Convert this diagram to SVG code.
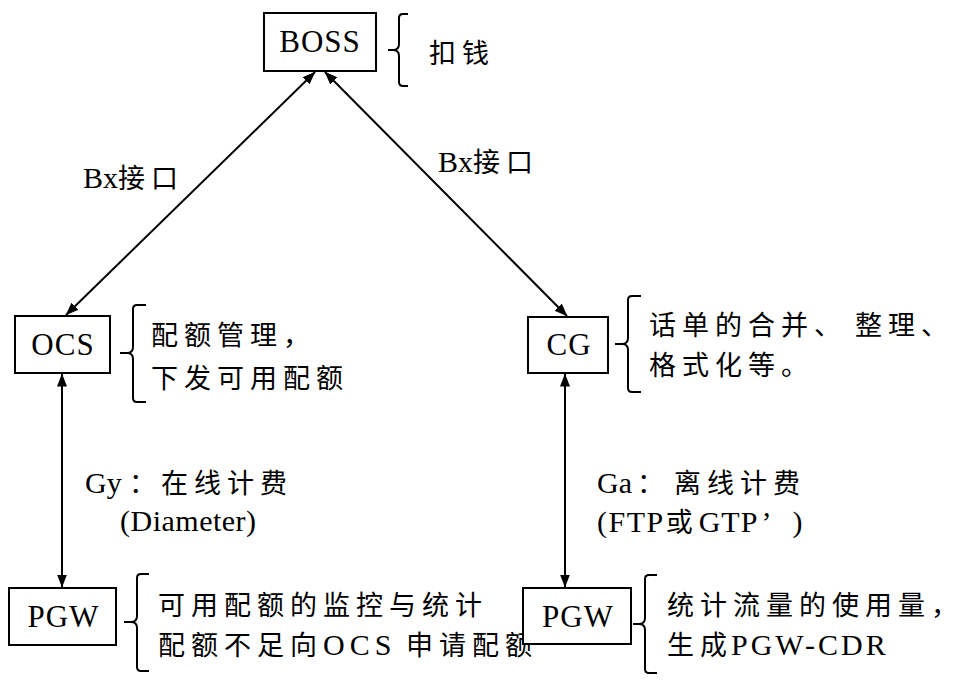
<svg xmlns="http://www.w3.org/2000/svg" width="965" height="693" viewBox="0 0 965 693">
<defs>
<style>
.box { fill: #fff; stroke: #000; stroke-width: 2; }
.lbl { font-family: "Liberation Serif", serif; font-size: 31px; letter-spacing: 1px; text-anchor: middle; fill: #000; }
.zh { font-family: "Noto Sans CJK SC", sans-serif; font-size: 27px; letter-spacing: 6px; fill: #000; }
.en { font-family: "Liberation Serif", serif; font-size: 30px; fill: #000; }
.brace { fill: none; stroke: #000; stroke-width: 2; }
.conn { fill: none; stroke: #000; stroke-width: 2; marker-start: url(#ah); marker-end: url(#ah); }
</style>
<marker id="ah" viewBox="0 0 13 12" refX="12.5" refY="6" markerWidth="13" markerHeight="12" markerUnits="userSpaceOnUse" orient="auto-start-reverse">
<path d="M0,1 L13,6 L0,11 z" fill="#000"/>
</marker>
</defs>
<rect width="965" height="693" fill="#fff"/>

<g id="connectors">
<line class="conn" x1="315" y1="72" x2="66" y2="315"/>
<line class="conn" x1="325" y1="72" x2="567" y2="316"/>
<line class="conn" x1="62" y1="374" x2="62" y2="587"/>
<line class="conn" x1="565" y1="374" x2="565" y2="587"/>
<text y="188"><tspan class="en" x="83">Bx</tspan><tspan class="zh" x="118">接口</tspan></text>
<text y="172"><tspan class="en" x="438">Bx</tspan><tspan class="zh" x="473">接口</tspan></text>
<text y="493"><tspan class="en" x="85">Gy</tspan><tspan class="zh" x="129">：</tspan><tspan class="zh" x="161">在线计费</tspan></text>
<text class="en" x="120" y="531" letter-spacing="0.5">(Diameter)</text>
<text y="493"><tspan class="en" x="597">Ga</tspan><tspan class="zh" x="637">：</tspan><tspan class="zh" x="674">离线计费</tspan></text>
<text x="597" y="532"><tspan class="en" letter-spacing="1.5">(FTP</tspan><tspan class="zh" font-size="26" letter-spacing="0" dx="1">或</tspan><tspan class="en" letter-spacing="1">GTP</tspan><tspan class="en" dx="3">’</tspan><tspan class="en" dx="21">)</tspan></text>
</g>

<g id="node-boss">
<rect class="box" x="264" y="13" width="112" height="58"/>
<text class="lbl" x="320" y="52">BOSS</text>
</g>
<g id="note-boss">
<path class="brace" d="M408,14 L403,14 Q399,14 399,18 L399,44 Q399,50 393,50 L388,50 M393,50 Q399,50 399,56 L399,82 Q399,86 403,86 L408,86"/>
<text class="zh" x="429" y="63" letter-spacing="3">扣钱</text>
</g>

<g id="node-ocs">
<rect class="box" x="15" y="316" width="95" height="57"/>
<text class="lbl" x="63" y="355" letter-spacing="2">OCS</text>
</g>
<g id="note-ocs">
<path class="brace" d="M146,305 L137,305 Q133,305 133,309 L133,347 Q133,353 127,353 L120,353 M127,353 Q133,353 133,359 L133,398 Q133,402 137,402 L146,402"/>
<text class="zh" x="151" y="345" letter-spacing="5">配额管理，</text>
<text class="zh" x="151" y="388" letter-spacing="5">下发可用配额</text>
</g>

<g id="node-cg">
<rect class="box" x="528" y="317" width="80" height="56"/>
<text class="lbl" x="569" y="355" letter-spacing="3">CG</text>
</g>
<g id="note-cg">
<path class="brace" d="M641,296 L632,296 Q628,296 628,300 L628,338 Q628,344 622,344 L615,344 M622,344 Q628,344 628,350 L628,388 Q628,392 632,392 L641,392"/>
<text class="zh" x="649" y="335" letter-spacing="5">话单的合并、<tspan dx="8">整理、</tspan></text>
<text class="zh" x="649" y="375" letter-spacing="5">格式化等。</text>
</g>

<g id="node-pgw1">
<rect class="box" x="9" y="588" width="107" height="57"/>
<text class="lbl" x="63.5" y="627" letter-spacing="2">PGW</text>
</g>
<g id="note-pgw1">
<path class="brace" d="M149,574 L141,574 Q137,574 137,578 L137,616 Q137,622 131,622 L124,622 M131,622 Q137,622 137,628 L137,667 Q137,671 141,671 L149,671"/>
<text class="zh" x="158" y="615">可用配额的监控与统计</text>
<text y="655"><tspan class="zh" x="158">配额不足向</tspan><tspan class="en" x="323" font-size="31" letter-spacing="5">OCS</tspan><tspan class="zh" x="406">申请配额</tspan></text>
</g>

<g id="node-pgw2">
<rect class="box" x="523" y="588" width="108" height="56"/>
<text class="lbl" x="578" y="627" letter-spacing="2">PGW</text>
</g>
<g id="note-pgw2">
<path class="brace" d="M657,575 L649,575 Q645,575 645,579 L645,618 Q645,624 639,624 L633,624 M639,624 Q645,624 645,630 L645,669 Q645,673 649,673 L657,673"/>
<text class="zh" x="667" y="615">统计流量的使用量，</text>
<text y="655"><tspan class="zh" x="667" letter-spacing="5">生成</tspan><tspan class="en" x="731" letter-spacing="3">PGW-CDR</tspan></text>
</g>
</svg>
